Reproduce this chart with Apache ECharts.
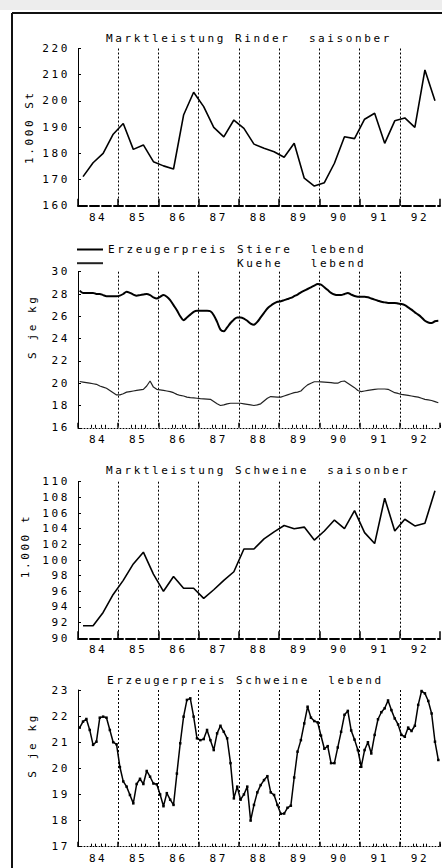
<!DOCTYPE html>
<html><head><meta charset="utf-8">
<script src="https://cdn.jsdelivr.net/npm/echarts@6/dist/echarts.min.js"></script>
<style>
html,body{margin:0;padding:0;background:#fff;}
#c{width:442px;height:868px;}
#c text{letter-spacing:2.6px;}
</style></head><body><div id="c"></div><script>
// ---- data ----
const yearLabels = ['84','85','86','87','88','89','90','91','92'];
const quarterNames = ['I','II','III','IV'];
const quarters = yearLabels.flatMap(y => quarterNames.map(q => y + '/' + q));
const months = yearLabels.flatMap(y => Array.from({length: 12}, (_, i) => y + '/' + (i + 1)));

const rinderMarkt = [171.1, 176.4, 180.0, 187.3, 191.4, 181.5, 183.2, 176.8, 175.2, 174.0, 194.6, 203.3,
  197.8, 189.9, 186.3, 192.7, 189.5, 183.5, 181.9, 180.6, 178.5, 183.8, 170.5, 167.5,
  168.8, 176.2, 186.3, 185.6, 193.0, 195.3, 183.8, 192.4, 193.5, 189.9, 211.8, 200.1];

const stierePreis = [
  28.3, 28.1, 28.1, 28.1, 28.1, 28.0, 28.0, 27.9, 27.8, 27.8, 27.8, 27.8,
  27.85, 28.0, 28.2, 28.1, 27.95, 27.85, 27.9, 27.95, 28.0, 27.9, 27.7, 27.6,
  27.75, 27.9, 27.75, 27.45, 27.0, 26.55, 26.0, 25.65, 25.9, 26.15, 26.4, 26.5,
  26.5, 26.5, 26.5, 26.45, 26.1, 25.5, 24.8, 24.65, 25.0, 25.4, 25.7, 25.9,
  25.9, 25.8, 25.6, 25.35, 25.25, 25.5, 25.9, 26.3, 26.7, 26.95, 27.15, 27.3,
  27.35, 27.45, 27.55, 27.65, 27.8, 27.95, 28.15, 28.3, 28.45, 28.6, 28.75, 28.9,
  28.85, 28.6, 28.35, 28.1, 27.95, 27.9, 27.9, 28.0, 28.1, 27.95, 27.82, 27.75,
  27.75, 27.75, 27.7, 27.6, 27.5, 27.4, 27.3, 27.25, 27.2, 27.2, 27.2, 27.15,
  27.1, 27.0, 26.8, 26.6, 26.35, 26.15, 25.9, 25.6, 25.45, 25.4, 25.55, 25.6];

const kuehePreis = [
  20.15, 20.1, 20.05, 20.0, 19.95, 19.9, 19.75, 19.65, 19.55, 19.35, 19.15, 18.95,
  18.95, 19.05, 19.2, 19.25, 19.3, 19.35, 19.4, 19.45, 19.75, 20.2, 19.65, 19.45,
  19.4, 19.35, 19.3, 19.25, 19.15, 19.0, 18.9, 18.85, 18.75, 18.7, 18.68, 18.65,
  18.62, 18.6, 18.58, 18.55, 18.35, 18.15, 18.0, 18.05, 18.15, 18.2, 18.2, 18.2,
  18.2, 18.15, 18.1, 18.05, 18.0, 18.05, 18.15, 18.4, 18.65, 18.8, 18.78, 18.75,
  18.75, 18.85, 18.95, 19.05, 19.15, 19.2, 19.3, 19.6, 19.85, 20.0, 20.13, 20.13,
  20.12, 20.1, 20.08, 20.05, 20.0, 20.0, 20.15, 20.2, 20.0, 19.8, 19.6, 19.35,
  19.25, 19.3, 19.35, 19.4, 19.45, 19.48, 19.48, 19.48, 19.45, 19.3, 19.15, 19.08,
  19.0, 18.95, 18.9, 18.85, 18.8, 18.75, 18.65, 18.55, 18.5, 18.45, 18.35, 18.25];

const schweineMarkt = [91.6, 91.6, 93.3, 95.6, 97.4, 99.5, 101.0, 98.2, 96.0, 97.9, 96.4, 96.4,
  95.1, 96.2, 97.4, 98.5, 101.4, 101.4, 102.7, 103.6, 104.4, 104.0, 104.2, 102.55,
  103.7, 105.1, 104.0, 106.3, 103.5, 102.1, 107.9, 103.7, 105.2, 104.35, 104.7, 108.85];

const schweinePreis = [
  21.56, 21.79, 21.89, 21.47, 20.9, 21.02, 21.94, 21.98, 21.94, 21.47, 21.0, 20.92,
  20.05, 19.5, 19.3, 18.98, 18.66, 19.4, 19.6, 19.4, 19.9, 19.68, 19.42, 19.39,
  19.0, 18.55, 19.05, 18.8, 18.6, 19.8, 20.96, 21.98, 22.62, 22.68, 21.98, 21.15,
  21.08, 21.12, 21.47, 21.08, 20.7, 21.34, 21.63, 21.4, 21.15, 20.2, 18.85, 19.3,
  18.8, 19.0, 19.3, 18.0, 18.6, 19.08, 19.36, 19.55, 19.7, 19.08, 18.98, 18.6,
  18.26, 18.27, 18.49, 18.57, 19.65, 20.64, 21.08, 21.72, 22.36, 21.94, 21.81, 21.76,
  21.25, 20.75, 20.85, 20.2, 20.2, 20.8, 21.4, 22.05, 22.2, 21.45, 21.1, 20.7,
  20.06, 20.7, 21.0, 20.57, 21.28, 21.88, 22.15, 22.3, 22.6, 22.23, 21.91, 21.68,
  21.28, 21.21, 21.56, 21.43, 21.63, 22.43, 22.96, 22.87, 22.58, 22.1, 21.02, 20.32];

const titles = ['Marktleistung Rinder  saisonber', 'Marktleistung Schweine  saisonber', 'Erzeugerpreis Schweine  lebend'];
const yNames = ['1.000 St', 'S je kg', '1.000 t', 'S je kg'];
const legendNames = ['Erzeugerpreis Stiere  lebend', 'Kuehe   lebend'];

// ---- layout ----
const FONT = 'DejaVu Sans Mono';
const BLACK = '#000';
const panels = [
  {top: 48.5, height: 157.2, min: 160, max: 220, interval: 10, gap: 43, shift: 0, cats: quarters, dashed: true},
  {top: 271.7, height: 156.1, min: 16, max: 30, interval: 2, gap: 40, shift: 23, cats: months, dashed: false},
  {top: 481.7, height: 156.6, min: 90, max: 110, interval: 2, gap: 47, shift: 14, cats: quarters, dashed: true},
  {top: 690, height: 156.7, min: 17, max: 23, interval: 1, gap: 40, shift: 23, cats: months, dashed: false}
];

const grid = panels.map(p => ({left: 78, top: p.top, width: 362, height: p.height}));
const xAxis = [];
const yAxis = [];
panels.forEach((p, i) => {
  xAxis.push({
    type: 'category', gridIndex: i, data: p.cats, boundaryGap: true, position: 'bottom',
    axisLine: {show: true, onZero: false, lineStyle: p.dashed ? {color: BLACK, width: 2, type: [9, 3]} : {color: BLACK, width: 1, type: [1, 2]}},
    axisTick: p.dashed ? {show: false} : {show: true, inside: true, length: 3, interval: (idx) => [4, 5, 7, 8].includes(idx % 12), lineStyle: {color: BLACK, width: 1}},
    axisLabel: {show: false}, splitLine: {show: false}
  });
  xAxis.push({
    type: 'category', gridIndex: i, data: yearLabels, boundaryGap: true, position: 'bottom',
    axisLine: {show: false, onZero: false},
    axisTick: {show: true, inside: true, length: p.dashed ? 7 : 5, lineStyle: {color: BLACK, width: 1.5}},
    axisLabel: {show: true, color: BLACK, fontFamily: FONT, fontSize: 11, margin: 6},
    splitLine: {show: true, showMinLine: false, showMaxLine: false, lineStyle: {color: BLACK, width: 1, type: [2, 2]}}
  });
  yAxis.push({
    type: 'value', gridIndex: i, min: p.min, max: p.max, interval: p.interval,
    axisLine: {show: true, onZero: false, lineStyle: {color: BLACK, width: 1}},
    axisTick: {show: true, inside: true, length: 3, lineStyle: {color: BLACK}},
    axisLabel: {color: BLACK, fontFamily: FONT, fontSize: 11, margin: 8},
    splitLine: {show: false},
    name: yNames[i], nameLocation: 'middle', nameRotate: 90, nameGap: p.gap,
    nameTextStyle: {color: BLACK, fontFamily: FONT, fontSize: 11, padding: [0, 0, 0, 2 * p.shift]}
  });
});

const option = {
  animation: false,
  backgroundColor: '#fff',
  textStyle: {fontFamily: FONT},
  grid, xAxis, yAxis,
  title: [
    {text: titles[0], left: 106, top: 32.5, padding: 0, textStyle: {fontFamily: FONT, fontSize: 11, fontWeight: 'normal', color: BLACK}},
    {text: titles[1], left: 106, top: 465, padding: 0, textStyle: {fontFamily: FONT, fontSize: 11, fontWeight: 'normal', color: BLACK}},
    {text: titles[2], left: 107, top: 675, padding: 0, textStyle: {fontFamily: FONT, fontSize: 11, fontWeight: 'normal', color: BLACK}}
  ],
  legend: {
    left: 76, top: 244, orient: 'vertical', itemWidth: 26, itemHeight: 10, itemGap: 2.7, padding: 0,
    selectedMode: false, data: legendNames,
    itemStyle: {opacity: 0, borderWidth: 0},
    formatter: n => n.startsWith('Kuehe') ? '{pad| }{t|' + n + '}' : n,
    textStyle: {fontFamily: FONT, fontSize: 11, color: BLACK, rich: {pad: {width: 129}, t: {fontFamily: FONT, fontSize: 11, color: BLACK}}}
  },
  graphic: [
    {type: 'rect', shape: {x: 0, y: 0, width: 442, height: 10}, style: {fill: '#ededed'}, silent: true},
    {type: 'line', shape: {x1: 12, y1: 13, x2: 442, y2: 13}, style: {stroke: '#111', lineWidth: 2}, silent: true},
    {type: 'line', shape: {x1: 12, y1: 13, x2: 12, y2: 868}, style: {stroke: '#111', lineWidth: 2}, silent: true}
  ],
  series: [
    {type: 'line', name: 'Marktleistung Rinder', xAxisIndex: 0, yAxisIndex: 0, data: rinderMarkt,
     symbol: 'none', lineStyle: {color: BLACK, width: 1.6}, itemStyle: {color: BLACK}},
    {type: 'line', name: legendNames[0], xAxisIndex: 2, yAxisIndex: 1, data: stierePreis, smooth: 0.3,
     symbol: 'none', lineStyle: {color: BLACK, width: 2}, itemStyle: {color: BLACK}},
    {type: 'line', name: legendNames[1], xAxisIndex: 2, yAxisIndex: 1, data: kuehePreis,
     symbol: 'none', lineStyle: {color: '#222', width: 1.2}, itemStyle: {color: '#222'}},
    {type: 'line', name: 'Marktleistung Schweine', xAxisIndex: 4, yAxisIndex: 2, data: schweineMarkt,
     symbol: 'none', lineStyle: {color: BLACK, width: 1.6}, itemStyle: {color: BLACK}},
    {type: 'line', name: 'Erzeugerpreis Schweine', xAxisIndex: 6, yAxisIndex: 3, data: schweinePreis,
     symbol: 'rect', symbolSize: 2.5, showSymbol: true, showAllSymbol: true,
     lineStyle: {color: BLACK, width: 1.5}, itemStyle: {color: BLACK}}
  ]
};
const chart = echarts.init(document.getElementById('c'), null, {renderer: 'svg', width: 442, height: 868});
chart.setOption(option);
</script></body></html>
